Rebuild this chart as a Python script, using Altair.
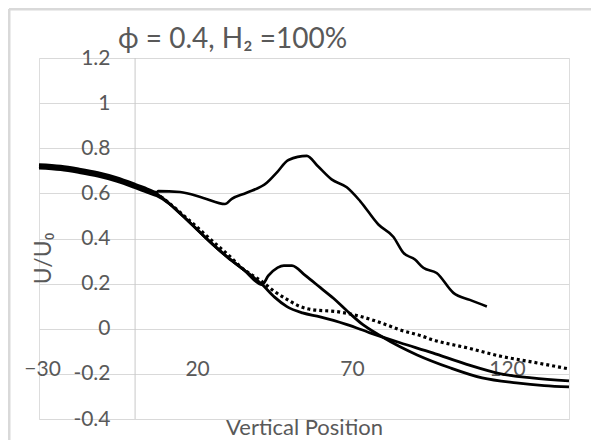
import altair as alt
import pandas as pd

# ---- data ----
common_x = [-31, -24, -18, -12, -6, 0, 4, 7]
common_y = [0.72, 0.713, 0.70, 0.684, 0.662, 0.633, 0.612, 0.597]
upper_shift = 0.008   # the four curves sit side by side in the thick start
lower_shift = -0.008

descent_x = [11, 15, 20, 25, 30, 35, 41]
descent_y = [0.555, 0.505, 0.44, 0.375, 0.315, 0.262, 0.196]

upper_x = [7.5, 14.5, 22, 29, 31.2, 36, 42.5, 45.7, 49.5, 55.4, 59, 63.4, 68.3,
           72.6, 78.5, 83.3, 86.6, 90.3, 93, 97.3, 102.7, 108, 113.5]
upper_y = [0.61, 0.606, 0.58, 0.553, 0.576, 0.603, 0.647, 0.692, 0.748, 0.766, 0.72, 0.662, 0.627,
           0.566, 0.462, 0.408, 0.336, 0.307, 0.27, 0.247, 0.159, 0.128, 0.099]

bump_x = [43, 46, 48, 50.6, 55, 59.7, 64, 68, 73.5, 79, 85.5, 91, 101.6, 112, 123, 132, 140]
bump_y = [0.235, 0.271, 0.28, 0.28, 0.235, 0.183, 0.135, 0.084, 0.018, -0.03, -0.08, -0.116,
          -0.173, -0.218, -0.24, -0.252, -0.258]

lower_x = [45, 49, 54, 59.7, 64, 68.4, 75.8, 85.5, 96, 107, 118, 128, 140]
lower_y = [0.14, 0.098, 0.07, 0.053, 0.037, 0.018, -0.018, -0.062, -0.107, -0.158, -0.2, -0.218, -0.231]

dotted_x = [11, 15, 20, 25, 30, 34, 41.3, 45, 49, 53, 57.4, 65, 72.6, 81, 85.5, 92, 96, 107, 118, 128, 140]
dotted_y = [0.557, 0.51, 0.45, 0.388, 0.328, 0.275, 0.205, 0.165, 0.13, 0.1, 0.084, 0.076, 0.055, 0.018,
            -0.005, -0.03, -0.049, -0.084, -0.122, -0.147, -0.178]

x_ticks = [-30, 20, 70, 120]
y_ticks = [-0.4, -0.2, 0, 0.2, 0.4, 0.6, 0.8, 1, 1.2]

title_text = "ϕ = 0.4, H₂ =100%"
x_title = "Vertical Position"
y_title = "U/U₀"

# ---- tables ----
def series(xs, ys):
    return pd.DataFrame({"x": xs, "y": ys})

df_upper = series(common_x + upper_x, [v + upper_shift for v in common_y] + upper_y)
df_bump = series(common_x + descent_x + bump_x, common_y + descent_y + bump_y)
df_lower = series(common_x + descent_x + lower_x, [v + lower_shift for v in common_y] + descent_y + lower_y)
df_dotted = series(common_x + dotted_x, common_y + dotted_y)

FONT = "Lato"
GRAY = "#595959"

xscale = alt.Scale(domain=[-31, 140], nice=False, zero=False)
yscale = alt.Scale(domain=[-0.4, 1.2], nice=False, zero=False)

xaxis = alt.Axis(values=x_ticks, grid=False, domain=False, ticks=False, tickSize=0,
                 offset=-55, labelPadding=5, labelBaseline="middle",
                 labelFont=FONT, labelFontSize=21, labelColor=GRAY,
                 title=x_title, titleFont=FONT, titleFontSize=22, titleColor=GRAY,
                 titleFontWeight="normal", titleY=63, titleBaseline="middle")
yaxis = alt.Axis(values=y_ticks, grid=True, gridColor="#d9d9d9", gridWidth=1,
                 domain=False, ticks=False, tickSize=0, offset=-75, labelPadding=4,
                 labelExpr="'' + datum.value",
                 labelFont=FONT, labelFontSize=21, labelColor=GRAY,
                 title=y_title, titleFont=FONT, titleFontSize=23, titleColor=GRAY,
                 titleFontWeight="normal", titleX=-71, titleY=200,
                 titleAlign="center", titleBaseline="middle", titleAngle=-90)

base_x = alt.X("x:Q", scale=xscale, axis=xaxis)
base_y = alt.Y("y:Q", scale=yscale, axis=yaxis)

vline = alt.Chart(pd.DataFrame({"x": [0], "y": [-0.4], "y2": [1.2]})).mark_rule(
    color="#c8c8c8", strokeWidth=1
).encode(x=base_x, y=base_y, y2="y2:Q")

def solid(df, w=2.8):
    return alt.Chart(df).mark_line(color="black", strokeWidth=w, strokeJoin="round",
                                   interpolate="monotone").encode(x=base_x, y=base_y)

dotted = alt.Chart(df_dotted).mark_line(color="black", strokeWidth=3.2, strokeDash=[3, 3],
                                        interpolate="monotone").encode(x=base_x, y=base_y)

frame = pd.DataFrame({"k": [0]})
left_border = alt.Chart(frame).mark_rule(color="#d9d9d9", strokeWidth=3).encode(
    x=alt.value(-30), y=alt.value(-49), y2=alt.value(382))
top_border = alt.Chart(frame).mark_rule(color="#d9d9d9", strokeWidth=3).encode(
    x=alt.value(-30), x2=alt.value(552), y=alt.value(-49))
title_mark = alt.Chart(frame).mark_text(
    text=title_text, align="left", baseline="alphabetic", font=FONT, fontSize=28, color=GRAY
).encode(x=alt.value(79), y=alt.value(-10))

chart = alt.layer(
    vline, dotted, solid(df_lower), solid(df_bump), solid(df_upper, 2.6),
    left_border, top_border, title_mark
).properties(
    width=530, height=361,
    padding={"left": 31, "top": 50, "right": 22, "bottom": 21},
    autosize="none",
).configure_view(stroke=None).configure(background="white")

chart.save("out.html", embed_options={"renderer": "svg", "actions": False})
